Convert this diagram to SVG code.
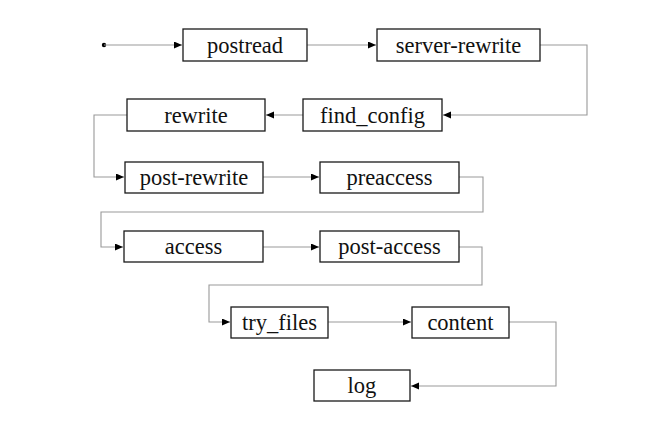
<svg xmlns="http://www.w3.org/2000/svg" width="654" height="440" viewBox="0 0 654 440">
<style>
.box{fill:#fff;stroke:#1a1a1a;stroke-width:1.3}
.lbl{font-family:"Liberation Serif","Times New Roman",serif;font-size:22.5px;fill:#111;text-anchor:middle}
.edge{fill:none;stroke:#999;stroke-width:1.1}
</style>
<defs>
<marker id="arr" markerWidth="9" markerHeight="8" refX="8" refY="3.5" orient="auto" markerUnits="userSpaceOnUse">
<path d="M0,0 L8,3.5 L0,7 z" fill="#000"/>
</marker>
</defs>
<rect width="654" height="440" fill="#fff"/>
<g id="connectors">
<circle cx="104" cy="45" r="2.2" fill="#000"/>
<path class="edge" d="M104,45 H182" marker-end="url(#arr)"/>
<path class="edge" d="M307,45 H376" marker-end="url(#arr)"/>
<path class="edge" d="M540,45 H587 V115 H443" marker-end="url(#arr)"/>
<path class="edge" d="M303,115 H266" marker-end="url(#arr)"/>
<path class="edge" d="M127,115 H94 V177 H124" marker-end="url(#arr)"/>
<path class="edge" d="M263,177 H319" marker-end="url(#arr)"/>
<path class="edge" d="M459,177 H483 V212 H101 V247 H123" marker-end="url(#arr)"/>
<path class="edge" d="M263,247 H319" marker-end="url(#arr)"/>
<path class="edge" d="M459,247 H482 V285 H209 V322 H230" marker-end="url(#arr)"/>
<path class="edge" d="M328,322 H411" marker-end="url(#arr)"/>
<path class="edge" d="M509,322 H556 V386 H411" marker-end="url(#arr)"/>
</g>
<g id="postread"><rect class="box" x="183" y="29" width="124" height="32"/><text class="lbl" x="245" y="52.5">postread</text></g>
<g id="server-rewrite"><rect class="box" x="377" y="29" width="163" height="32"/><text class="lbl" x="458.5" y="52.5">server-rewrite</text></g>
<g id="find_config"><rect class="box" x="303" y="99" width="139" height="32"/><text class="lbl" x="372.5" y="122.5">find_config</text></g>
<g id="rewrite"><rect class="box" x="127" y="99" width="138" height="32"/><text class="lbl" x="196" y="122.5">rewrite</text></g>
<g id="post-rewrite"><rect class="box" x="125" y="162" width="138" height="31"/><text class="lbl" x="194" y="185">post-rewrite</text></g>
<g id="preaccess"><rect class="box" x="320" y="162" width="139" height="31"/><text class="lbl" x="389.5" y="185">preaccess</text></g>
<g id="access"><rect class="box" x="124" y="231" width="139" height="31"/><text class="lbl" x="193.5" y="254">access</text></g>
<g id="post-access"><rect class="box" x="320" y="231" width="139" height="31"/><text class="lbl" x="389.5" y="254">post-access</text></g>
<g id="try_files"><rect class="box" x="231" y="307" width="97" height="31"/><text class="lbl" x="279.5" y="330">try_files</text></g>
<g id="content"><rect class="box" x="412" y="307" width="97" height="31"/><text class="lbl" x="460.5" y="330">content</text></g>
<g id="log"><rect class="box" x="314" y="370" width="96" height="31"/><text class="lbl" x="362" y="393">log</text></g>
</svg>
